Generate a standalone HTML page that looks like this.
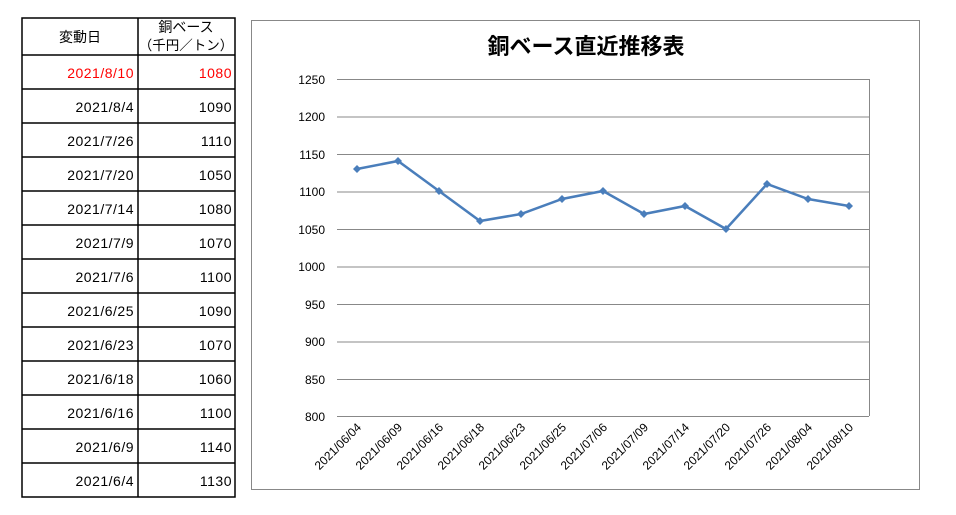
<!DOCTYPE html>
<html><head><meta charset="utf-8"><style>
body{margin:0;background:#fff;width:956px;height:515px;overflow:hidden;font-family:"Liberation Sans","Noto Sans CJK JP",sans-serif}
</style></head><body>
<svg width="956" height="515" style="position:absolute;left:0;top:0" font-family="Liberation Sans,Noto Sans CJK JP,sans-serif">
<g stroke="#000" stroke-width="1.5" fill="none">
<rect x="22" y="18" width="213" height="479"/>
<line x1="138" x2="138" y1="18" y2="497"/>
<line x1="22" x2="235" y1="55" y2="55"/><line x1="22" x2="235" y1="89" y2="89"/><line x1="22" x2="235" y1="123" y2="123"/><line x1="22" x2="235" y1="157" y2="157"/><line x1="22" x2="235" y1="191" y2="191"/><line x1="22" x2="235" y1="225" y2="225"/><line x1="22" x2="235" y1="259" y2="259"/><line x1="22" x2="235" y1="293" y2="293"/><line x1="22" x2="235" y1="327" y2="327"/><line x1="22" x2="235" y1="361" y2="361"/><line x1="22" x2="235" y1="395" y2="395"/><line x1="22" x2="235" y1="429" y2="429"/><line x1="22" x2="235" y1="463" y2="463"/>
</g>
<g font-size="14">
<text x="80" y="42" text-anchor="middle">変動日</text>
<text x="186" y="32" text-anchor="middle">銅ベース</text>
<text x="186" y="50" text-anchor="middle" font-size="13.5">（千円／トン）</text>
</g>
<g font-size="14" text-anchor="end" letter-spacing="0.5">
<text x="134" y="78" fill="#f00">2021/8/10</text><text x="232" y="78" fill="#f00">1080</text>
<text x="134" y="112">2021/8/4</text><text x="232" y="112">1090</text>
<text x="134" y="146">2021/7/26</text><text x="232" y="146">1110</text>
<text x="134" y="180">2021/7/20</text><text x="232" y="180">1050</text>
<text x="134" y="214">2021/7/14</text><text x="232" y="214">1080</text>
<text x="134" y="248">2021/7/9</text><text x="232" y="248">1070</text>
<text x="134" y="282">2021/7/6</text><text x="232" y="282">1100</text>
<text x="134" y="316">2021/6/25</text><text x="232" y="316">1090</text>
<text x="134" y="350">2021/6/23</text><text x="232" y="350">1070</text>
<text x="134" y="384">2021/6/18</text><text x="232" y="384">1060</text>
<text x="134" y="418">2021/6/16</text><text x="232" y="418">1100</text>
<text x="134" y="452">2021/6/9</text><text x="232" y="452">1140</text>
<text x="134" y="486">2021/6/4</text><text x="232" y="486">1130</text>
</g>
<rect x="251.5" y="20.5" width="668" height="469" fill="none" stroke="#888"/>
<text x="586" y="54" text-anchor="middle" font-size="22" font-weight="bold">銅ベース直近推移表</text>
<g stroke="#888" stroke-width="1">
<line x1="337" x2="869" y1="79.5" y2="79.5"/><line x1="337" x2="869" y1="117" y2="117"/><line x1="337" x2="869" y1="154.5" y2="154.5"/><line x1="337" x2="869" y1="192" y2="192"/><line x1="337" x2="869" y1="229.5" y2="229.5"/><line x1="337" x2="869" y1="267" y2="267"/><line x1="337" x2="869" y1="304.5" y2="304.5"/><line x1="337" x2="869" y1="342" y2="342"/><line x1="337" x2="869" y1="379.5" y2="379.5"/><line x1="337" x2="869" y1="416.5" y2="416.5"/>
<line x1="869.5" x2="869.5" y1="79" y2="416"/>
</g>
<g font-size="12" text-anchor="end">
<text x="325" y="84">1250</text><text x="325" y="121">1200</text><text x="325" y="159">1150</text><text x="325" y="196">1100</text><text x="325" y="234">1050</text><text x="325" y="271">1000</text><text x="325" y="309">950</text><text x="325" y="346">900</text><text x="325" y="384">850</text><text x="325" y="421">800</text>
</g>
<polyline fill="none" stroke="#4a7ebb" stroke-width="2.5" points="357,169 398,161 439,191 480,221 521,214 562,199 603,191 644,214 685,206 726,229 767,184 808,199 849,206"/>
<g fill="#4a7ebb">
<path d="M357 165l4 4-4 4-4-4z"/><path d="M398 157l4 4-4 4-4-4z"/><path d="M439 187l4 4-4 4-4-4z"/><path d="M480 217l4 4-4 4-4-4z"/><path d="M521 210l4 4-4 4-4-4z"/><path d="M562 195l4 4-4 4-4-4z"/><path d="M603 187l4 4-4 4-4-4z"/><path d="M644 210l4 4-4 4-4-4z"/><path d="M685 202l4 4-4 4-4-4z"/><path d="M726 225l4 4-4 4-4-4z"/><path d="M767 180l4 4-4 4-4-4z"/><path d="M808 195l4 4-4 4-4-4z"/><path d="M849 202l4 4-4 4-4-4z"/>
</g>
<g font-size="12" text-anchor="end">
<text transform="translate(362,428) rotate(-45)">2021/06/04</text>
<text transform="translate(403,428) rotate(-45)">2021/06/09</text>
<text transform="translate(444,428) rotate(-45)">2021/06/16</text>
<text transform="translate(485,428) rotate(-45)">2021/06/18</text>
<text transform="translate(526,428) rotate(-45)">2021/06/23</text>
<text transform="translate(567,428) rotate(-45)">2021/06/25</text>
<text transform="translate(608,428) rotate(-45)">2021/07/06</text>
<text transform="translate(649,428) rotate(-45)">2021/07/09</text>
<text transform="translate(690,428) rotate(-45)">2021/07/14</text>
<text transform="translate(731,428) rotate(-45)">2021/07/20</text>
<text transform="translate(772,428) rotate(-45)">2021/07/26</text>
<text transform="translate(813,428) rotate(-45)">2021/08/04</text>
<text transform="translate(854,428) rotate(-45)">2021/08/10</text>
</g>
</svg>
</body></html>
